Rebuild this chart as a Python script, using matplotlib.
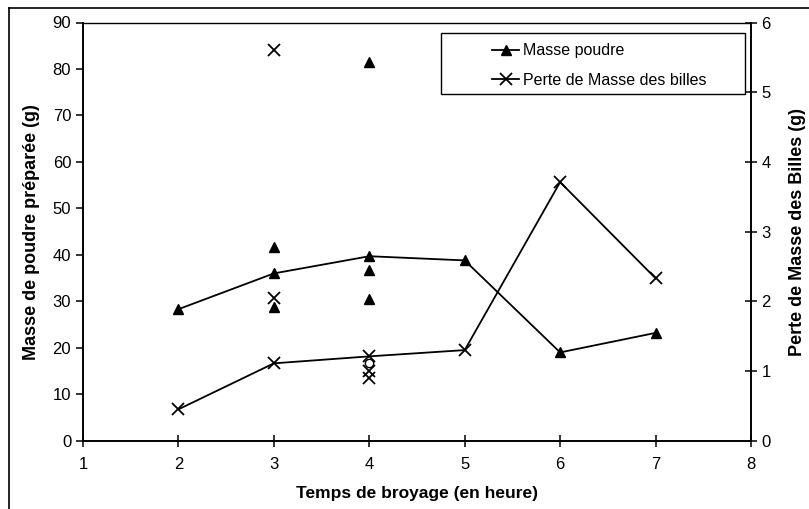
import matplotlib
matplotlib.use("Agg")
import matplotlib.pyplot as plt
from matplotlib.lines import Line2D
from matplotlib.patches import Rectangle

plt.rcParams['font.family'] = ['Liberation Sans', 'DejaVu Sans']

# Data
hours = [2, 3, 4, 5, 6, 7]
masse_poudre = [28.3, 36.0, 39.7, 38.8, 19.0, 23.2]
extra_poudre_x = [3, 3, 4, 4, 4]
extra_poudre_y = [41.7, 28.7, 81.5, 36.7, 30.5]

perte_masse = [0.45, 1.11, 1.21, 1.30, 3.71, 2.33]
extra_perte_x = [3, 3, 4, 4]
extra_perte_y = [5.60, 2.05, 1.00, 0.90]
circle_perte_x = [4]
circle_perte_y = [1.12]

fig = plt.figure(figsize=(8.09, 5.09), dpi=100)
ax = fig.add_axes([83/809, 1-440.7/509, (751-83)/809, (440.7-22.5)/509])
ax2 = ax.twinx()

ax.plot(hours, masse_poudre, color='black', lw=1.3, marker='^', ms=7, label='Masse poudre')
ax.plot(extra_poudre_x, extra_poudre_y, ls='none', color='black', marker='^', ms=7)

ax2.plot(hours, perte_masse, color='black', lw=1.3, marker='x', ms=8, mew=1.3,
         label='Perte de Masse des billes')
ax2.plot(extra_perte_x, extra_perte_y, ls='none', color='black', marker='x', ms=8, mew=1.3)
ax2.plot(circle_perte_x, circle_perte_y, ls='none', color='black', marker='o', ms=6,
         mfc='none', mew=1.0)

ax.set_xlim(1, 8)
ax.set_ylim(0, 90)
ax2.set_ylim(0, 6)
ax.set_xticks(range(1, 9))
ax.set_yticks(range(0, 91, 10))
ax2.set_yticks(range(0, 7))

for a in (ax, ax2):
    for s in a.spines.values():
        s.set_linewidth(1.2)
        s.set_color('black')
ax.spines['top'].set_linestyle((0, (1, 1)))
ax.spines['top'].set_linewidth(1.0)
ax2.spines['top'].set_visible(False)

ax.tick_params(axis='x', direction='inout', length=8, labelsize=12, pad=8, width=1.1)
ax.tick_params(axis='y', direction='out', length=5, labelsize=12, width=1.1)
ax2.tick_params(axis='y', direction='inout', length=8, labelsize=12, width=1.1)

ax.set_xlabel('Temps de broyage (en heure)', fontsize=12.5, fontweight='bold', labelpad=10)
ax.set_ylabel('Masse de poudre préparée (g)', fontsize=13, fontweight='bold', labelpad=9)
ax2.set_ylabel('Perte de Masse des Billes (g)', fontsize=13, fontweight='bold', labelpad=13)

# Legend box
fig.add_artist(Rectangle((441/809, 1-94/509), (745-441)/809, (94-33)/509,
                         transform=fig.transFigure, fill=True, facecolor='white',
                         edgecolor='black', lw=1.0, zorder=5))
h1, l1 = ax.get_legend_handles_labels()
h2, l2 = ax2.get_legend_handles_labels()
leg = fig.legend(h1 + h2, l1 + l2, loc='upper left',
                 bbox_to_anchor=(489/809, 1-40/509),
                 frameon=False, fontsize=11.5,
                 handlelength=1.7, handletextpad=0.2, borderpad=0.2, labelspacing=0.9,
                 borderaxespad=0)
leg.set_zorder(6)

# Figure frame lines (left and top)
fig.add_artist(Line2D([9/809, 9/809], [0, 1-8/509], transform=fig.transFigure,
                      color='black', lw=1.2))
fig.add_artist(Line2D([9/809, 1], [1-8/509, 1-8/509], transform=fig.transFigure,
                      color='black', lw=1.2))

fig.savefig('out.png', dpi=100)
